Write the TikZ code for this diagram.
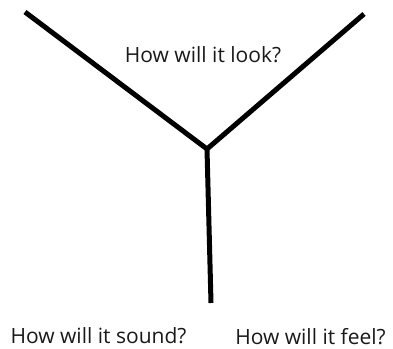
\documentclass[tikz,border=0pt]{standalone}
\usepackage{fontspec}
\setmainfont{Open Sans}
\begin{document}
\begin{tikzpicture}[x=1pt,y=-1pt,
  branch/.style={line width=5pt,line cap=butt,line join=miter},
  label/.style={font=\fontsize{21}{25}\selectfont,anchor=base,inner sep=0pt,text=black!90}]
\useasboundingbox (0,0) rectangle (393,348);
\coordinate (c) at (207,149);
\coordinate (tl) at (25,12);
\coordinate (tr) at (364,14);
\coordinate (b) at (211,303);
\draw[branch] (tl) -- (c) -- (tr);
\draw[branch] (c) -- (b);
\node[label] (look) at (203,62.5) {How will it look?};
\node[label] (sound) at (98.5,343.3) {How will it sound?};
\node[label] (feel) at (310.5,344.3) {How will it feel?};
\end{tikzpicture}
\end{document}
